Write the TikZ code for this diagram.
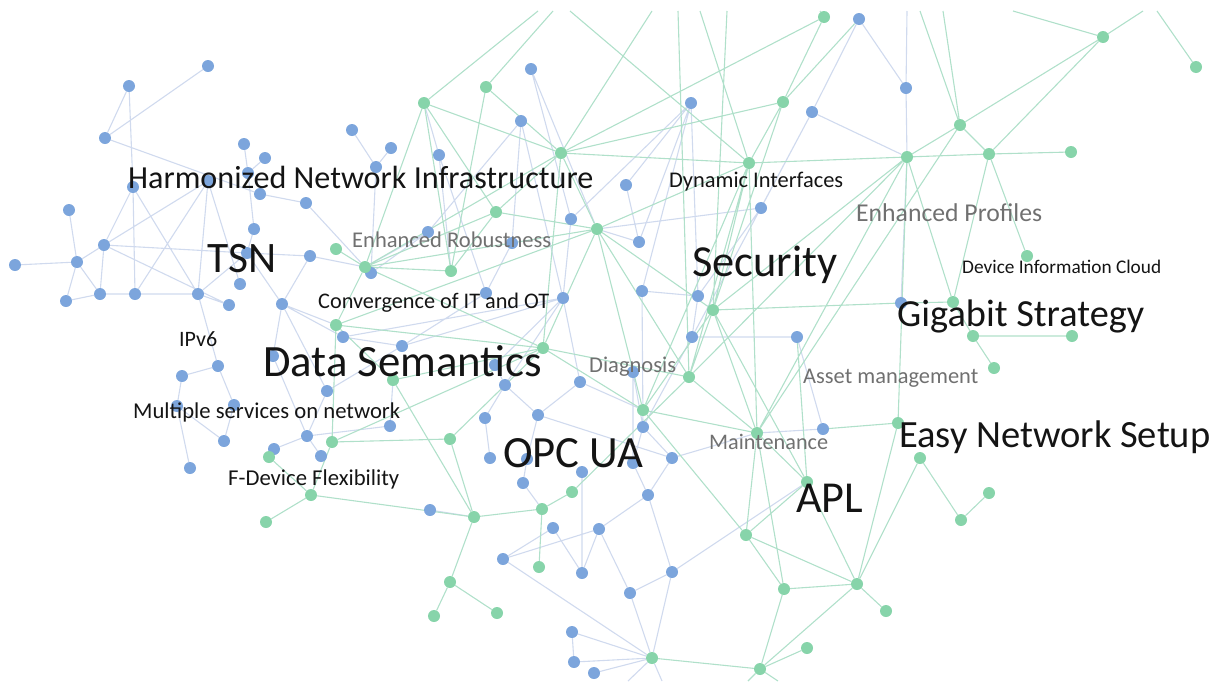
\documentclass[tikz,border=0pt]{standalone}
\usepackage{fontspec}
\setmainfont{Carlito}
\usetikzlibrary{backgrounds}
\definecolor{dotblue}{RGB}{124,165,220}
\definecolor{dotgreen}{RGB}{135,212,170}
\definecolor{lineblue}{RGB}{208,218,238}
\definecolor{linegreen}{RGB}{176,224,202}
\definecolor{darktext}{RGB}{20,20,20}
\definecolor{graytext}{RGB}{112,112,112}
\tikzset{
  bdot/.style={circle,fill=dotblue,inner sep=0pt,minimum size=12pt},
  gdot/.style={circle,fill=dotgreen,inner sep=0pt,minimum size=12pt},
  bedge/.style={draw=lineblue,line width=1.1pt},
  gedge/.style={draw=linegreen,line width=1.1pt},
  lbl/.style={anchor=base west,inner sep=0pt,text=darktext},
  lblgray/.style={lbl,text=graytext}
}
\begin{document}
\begin{tikzpicture}[x=1pt,y=-1pt]
\useasboundingbox (0,0) rectangle (1223,681);
% blue dots
\node[bdot] (b1) at (208,66) {};   \node[bdot] (b2) at (129,86) {};
\node[bdot] (b3) at (105,138) {};  \node[bdot] (b4) at (244,144) {};
\node[bdot] (b5) at (265,158) {};  \node[bdot] (b6) at (352,130) {};
\node[bdot] (b7) at (391,148) {};  \node[bdot] (b8) at (376,167) {};
\node[bdot] (b9) at (133,187) {};  \node[bdot] (b10) at (208,181) {};
\node[bdot] (b11) at (260,194) {}; \node[bdot] (b12) at (306,203) {};
\node[bdot] (b13) at (69,210) {};  \node[bdot] (b14) at (254,229) {};
\node[bdot] (b15) at (104,245) {}; \node[bdot] (b16) at (77,262) {};
\node[bdot] (b17) at (15,265) {};  \node[bdot] (b18) at (247,253) {};
\node[bdot] (b19) at (310,256) {}; \node[bdot] (b20) at (371,273) {};
\node[bdot] (b21) at (240,284) {}; \node[bdot] (b22) at (100,294) {};
\node[bdot] (b23) at (135,294) {}; \node[bdot] (b24) at (198,294) {};
\node[bdot] (b25) at (66,301) {};  \node[bdot] (b26) at (229,305) {};
\node[bdot] (b27) at (282,304) {}; \node[bdot] (b28) at (343,337) {};
\node[bdot] (b29) at (531,69) {};  \node[bdot] (b30) at (521,121) {};
\node[bdot] (b31) at (439,155) {}; \node[bdot] (b32) at (691,103) {};
\node[bdot] (b33) at (812,112) {}; \node[bdot] (b34) at (626,185) {};
\node[bdot] (b35) at (571,219) {}; \node[bdot] (b36) at (428,232) {};
\node[bdot] (b37) at (512,243) {}; \node[bdot] (b38) at (639,242) {};
\node[bdot] (b39) at (761,208) {}; \node[bdot] (b40) at (486,293) {};
\node[bdot] (b41) at (563,298) {}; \node[bdot] (b42) at (642,291) {};
\node[bdot] (b43) at (698,296) {}; \node[bdot] (b44) at (692,337) {};
\node[bdot] (b45) at (797,337) {}; \node[bdot] (b46) at (859,19) {};
\node[bdot] (b47) at (906,88) {};  \node[bdot] (b48) at (901,303) {};
\node[bdot] (b49) at (218,366) {}; \node[bdot] (b50) at (182,376) {};
\node[bdot] (b51) at (177,406) {}; \node[bdot] (b52) at (234,405) {};
\node[bdot] (b53) at (224,441) {}; \node[bdot] (b54) at (190,468) {};
\node[bdot] (b55) at (273,356) {}; \node[bdot] (b56) at (402,346) {};
\node[bdot] (b57) at (327,391) {}; \node[bdot] (b58) at (390,426) {};
\node[bdot] (b59) at (307,436) {}; \node[bdot] (b60) at (274,449) {};
\node[bdot] (b61) at (321,456) {}; \node[bdot] (b62) at (495,365) {};
\node[bdot] (b63) at (505,385) {}; \node[bdot] (b64) at (580,382) {};
\node[bdot] (b65) at (633,372) {}; \node[bdot] (b66) at (643,427) {};
\node[bdot] (b67) at (485,418) {}; \node[bdot] (b68) at (538,415) {};
\node[bdot] (b69) at (490,458) {}; \node[bdot] (b70) at (527,459) {};
\node[bdot] (b71) at (582,472) {}; \node[bdot] (b72) at (633,463) {};
\node[bdot] (b73) at (672,458) {}; \node[bdot] (b74) at (523,483) {};
\node[bdot] (b75) at (648,495) {}; \node[bdot] (b76) at (430,510) {};
\node[bdot] (b77) at (553,528) {}; \node[bdot] (b78) at (599,529) {};
\node[bdot] (b79) at (503,559) {}; \node[bdot] (b80) at (582,573) {};
\node[bdot] (b81) at (672,572) {}; \node[bdot] (b82) at (630,593) {};
\node[bdot] (b83) at (572,632) {}; \node[bdot] (b84) at (574,662) {};
\node[bdot] (b85) at (594,673) {}; \node[bdot] (b86) at (823,429) {};
\node[bdot] (b87) at (248,173) {};
% green dots
\node[gdot] (g1) at (336,249) {};  \node[gdot] (g2) at (365,267) {};
\node[gdot] (g3) at (336,325) {};  \node[gdot] (g4) at (424,103) {};
\node[gdot] (g5) at (486,87) {};   \node[gdot] (g6) at (561,153) {};
\node[gdot] (g7) at (496,212) {};  \node[gdot] (g8) at (597,229) {};
\node[gdot] (g9) at (451,271) {};  \node[gdot] (g10) at (783,102) {};
\node[gdot] (g11) at (749,163) {}; \node[gdot] (g12) at (713,310) {};
\node[gdot] (g13) at (824,17) {};  \node[gdot] (g14) at (960,125) {};
\node[gdot] (g15) at (1103,37) {}; \node[gdot] (g16) at (1196,67) {};
\node[gdot] (g17) at (907,157) {}; \node[gdot] (g18) at (989,154) {};
\node[gdot] (g19) at (1071,152) {};\node[gdot] (g20) at (1027,256) {};
\node[gdot] (g21) at (953,302) {}; \node[gdot] (g22) at (973,336) {};
\node[gdot] (g23) at (1072,336) {};\node[gdot] (g24) at (994,368) {};
\node[gdot] (g25) at (898,423) {}; \node[gdot] (g26) at (920,458) {};
\node[gdot] (g27) at (989,493) {}; \node[gdot] (g28) at (961,520) {};
\node[gdot] (g29) at (857,584) {}; \node[gdot] (g30) at (886,611) {};
\node[gdot] (g31) at (393,380) {}; \node[gdot] (g32) at (332,442) {};
\node[gdot] (g33) at (269,457) {}; \node[gdot] (g34) at (311,495) {};
\node[gdot] (g35) at (266,522) {}; \node[gdot] (g36) at (543,348) {};
\node[gdot] (g37) at (689,377) {}; \node[gdot] (g38) at (643,410) {};
\node[gdot] (g39) at (450,439) {}; \node[gdot] (g40) at (757,433) {};
\node[gdot] (g41) at (572,492) {}; \node[gdot] (g42) at (474,517) {};
\node[gdot] (g43) at (542,509) {}; \node[gdot] (g44) at (746,535) {};
\node[gdot] (g45) at (807,482) {}; \node[gdot] (g46) at (539,567) {};
\node[gdot] (g47) at (450,582) {}; \node[gdot] (g48) at (784,589) {};
\node[gdot] (g49) at (434,616) {}; \node[gdot] (g50) at (497,613) {};
\node[gdot] (g51) at (652,658) {}; \node[gdot] (g52) at (760,669) {};
\node[gdot] (g53) at (807,648) {};
% loose ends at the top and bottom edge
\coordinate (ta) at (538,11);  \coordinate (tb) at (553,11);
\coordinate (tc) at (570,11);  \coordinate (td) at (652,11);
\coordinate (te) at (678,11);  \coordinate (tf) at (700,11);
\coordinate (tg) at (727,11);  \coordinate (th) at (820,11);
\coordinate (ti) at (907,11);  \coordinate (tj) at (920,11);
\coordinate (tk) at (943,11);  \coordinate (tl) at (1013,11);
\coordinate (tm) at (1143,11); \coordinate (tn) at (1157,11);
\coordinate (ua) at (628,681); \coordinate (ub) at (662,681);
\coordinate (uc) at (748,681); \coordinate (ud) at (778,681);
\begin{pgfonlayer}{background}
% blue links
\draw[bedge] (b1)--(b3) (b2)--(b3) (b2)--(b9) (b9)--(b23) (b3)--(b11)
  (b4)--(b87) (b5)--(b87) (b87)--(b14) (b6)--(b8) (b7)--(b8) (b8)--(b20)
  (b9)--(b15) (b9)--(b24) (b10)--(b15) (b10)--(b23) (b10)--(b24) (b10)--(b21)
  (b11)--(b12) (b13)--(b16) (b15)--(b16) (b16)--(b17) (b15)--(b18)
  (b15)--(b22) (b15)--(b26) (b16)--(b25) (b16)--(b22) (b22)--(b25)
  (b22)--(b23) (b23)--(b24) (b24)--(b26) (b24)--(b18) (b24)--(b49)
  (b18)--(b19) (b14)--(b18) (b18)--(b27) (b19)--(b27) (b27)--(b28)
  (b27)--(b55) (b27)--(b57) (b28)--(b56) (b20)--(b36) (b12)--(g2)
  (b19)--(g2) (b36)--(g2) (b27)--(g3) (b31)--(g4) (b31)--(b40) (b31)--(g9)
  (b30)--(b36) (b30)--(b37) (b30)--(b41) (b29)--(b35) (b29)--(g8)
  (b40)--(b37) (b40)--(b56) (b41)--(b35) (b41)--(b56) (b41)--(b62)
  (b41)--(b63) (b41)--(b64) (b41)--(b28) (b32)--(b38) (b32)--(b42)
  (b32)--(b43) (b32)--(b34) (b32)--(b35) (b33)--(b46) (b33)--(b39)
  (b33)--(b44) (b33)--(g17) (b34)--(b38) (b38)--(g8) (b39)--(b43)
  (b39)--(g8) (b42)--(b43) (b42)--(b66) (b43)--(b44) (b44)--(b45)
  (b44)--(b66) (b45)--(b86) (b46)--(b47) (b47)--(g17) (b47)--(ti)
  (b48)--(g17) (b49)--(b50) (b49)--(b52) (b50)--(b51) (b51)--(b54)
  (b52)--(b53) (b51)--(b53) (b55)--(b59) (b57)--(b59) (b59)--(b60)
  (b59)--(b61) (b56)--(b57) (b58)--(b59) (b58)--(g31) (b60)--(g33)
  (b62)--(b63) (b63)--(b67) (b63)--(b68) (b64)--(b68) (b65)--(b66)
  (b65)--(b72) (b66)--(b72) (b66)--(b73) (b67)--(b69) (b68)--(b70)
  (b68)--(b73) (b70)--(b74) (b71)--(b80) (b72)--(b75) (b73)--(b75)
  (b75)--(b78) (b75)--(b81) (b77)--(b80) (b78)--(b80) (b78)--(b82)
  (b78)--(b79) (b79)--(b77) (b79)--(g51) (b81)--(b82) (b82)--(g51)
  (b81)--(g51) (b83)--(g51) (b84)--(g51) (b85)--(g51) (b74)--(g43)
  (b76)--(g42) (b81)--(g45) (b86)--(g40) (b64)--(g38) (b73)--(g40)
  (b84)--(b83) (g51)--(ua) (g51)--(ub);
% green links
\draw[gedge] (g4)--(ta) (g4)--(g2) (g4)--(g9) (g4)--(g6) (g4)--(g7)
  (g5)--(tb) (g5)--(g6) (g5)--(g9) (g6)--(g11) (g6)--(g8) (g6)--(g7)
  (g6)--(g10) (g6)--(g13) (g6)--(g2) (g6)--(td) (g7)--(g2) (g7)--(g9)
  (g7)--(g8) (g8)--(g2) (g8)--(g12) (g8)--(g37) (g8)--(g38) (g8)--(g36)
  (g8)--(g3) (g11)--(tc) (g11)--(tf) (g11)--(g12) (g11)--(g37)
  (g11)--(g40) (g11)--(g17) (g11)--(g10) (g11)--(g38) (g12)--(tg)
  (g12)--(g10) (g12)--(g17) (g12)--(g40) (g12)--(g37) (g12)--(b48)
  (g10)--(g13) (g13)--(th) (g14)--(tj) (g14)--(tk) (g14)--(g17)
  (g14)--(g18) (g14)--(g15) (g15)--(g18) (g15)--(tm) (g16)--(tn)
  (g15)--(tl) (g17)--(g18) (g17)--(g21) (g17)--(g25) (g17)--(g40)
  (g17)--(g37) (g18)--(g19) (g18)--(g20) (g18)--(g21) (g21)--(g22)
  (g21)--(b48) (g22)--(g23) (g22)--(g24) (g25)--(b86) (g25)--(g29)
  (g26)--(g28) (g26)--(g29) (g27)--(g28) (g29)--(g30) (g29)--(g44)
  (g29)--(g48) (g29)--(g45) (g29)--(g52) (g40)--(g44) (g40)--(g48)
  (g40)--(g45) (g40)--(g37) (g40)--(g38) (g40)--(g14) (g44)--(g48)
  (g44)--(g38) (g48)--(g52) (g52)--(g53) (g51)--(g52) (g45)--(b45)
  (g36)--(g3) (g36)--(g31) (g36)--(g32) (g36)--(g37) (g36)--(g2)
  (g31)--(g42) (g31)--(g3) (g32)--(g39) (g32)--(g34) (g32)--(g3)
  (g34)--(g35) (g34)--(g42) (g34)--(g33) (g39)--(g42) (g39)--(g36)
  (g42)--(g43) (g42)--(g47) (g47)--(g49) (g47)--(g50) (g43)--(g41)
  (g43)--(g46) (g1)--(g2) (g2)--(g3) (g2)--(g9) (g37)--(te) (g38)--(g12)
  (g41)--(g37) (g44)--(g45) (g45)--(g12) (g10)--(b46) (g36)--(g6)
  (g52)--(uc) (g52)--(ud) (g8)--(g11) (g38)--(g36);
\end{pgfonlayer}
% labels
\node[lbl] (hni) at (128,188) {\resizebox{465pt}{!}{Harmonized Network Infrastructure}};
\node[lbl] (tsn) at (207,272) {\resizebox{69pt}{!}{TSN}};
\node[lblgray] (erob) at (352,247) {\resizebox{199pt}{!}{Enhanced Robustness}};
\node[lbl] (conv) at (318,308) {\resizebox{231pt}{!}{Convergence of IT and OT}};
\node[lbl] (dsem) at (263,376) {\resizebox{279pt}{!}{Data Semantics}};
\node[lbl] (ipv6) at (179,346) {\resizebox{38pt}{!}{IPv6}};
\node[lbl] (msrv) at (133,418) {\resizebox{267pt}{!}{Multiple services on network}};
\node[lbl] (fdev) at (228,485) {\resizebox{171pt}{!}{F-Device Flexibility}};
\node[lbl] (opc) at (503,467) {\resizebox{140pt}{!}{OPC UA}};
\node[lblgray] (diag) at (589,372) {\resizebox{87pt}{!}{Diagnosis}};
\node[lbl] (dyn) at (669,187) {\resizebox{174pt}{!}{Dynamic Interfaces}};
\node[lbl] (sec) at (692,276) {\resizebox{145pt}{!}{Security}};
\node[lblgray] (eprof) at (856,221) {\resizebox{186pt}{!}{Enhanced Profiles}};
\node[lbl] (dic) at (962,273) {\resizebox{199pt}{!}{Device Information Cloud}};
\node[lbl] (giga) at (897,326) {\resizebox{247pt}{!}{Gigabit Strategy}};
\node[lblgray] (asset) at (803,383) {\resizebox{175pt}{!}{Asset management}};
\node[lblgray] (maint) at (709,449) {\resizebox{119pt}{!}{Maintenance}};
\node[lbl] (easy) at (899,447) {\resizebox{311pt}{!}{Easy Network Setup}};
\node[lbl] (apl) at (796,512) {\resizebox{67pt}{!}{APL}};
\end{tikzpicture}
\end{document}
